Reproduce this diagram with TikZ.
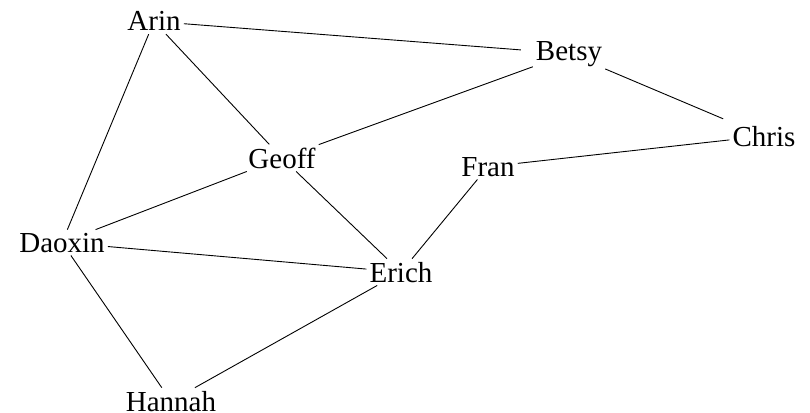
\documentclass[tikz,border=0pt]{standalone}
\usepackage{fontspec}
\setmainfont{Liberation Serif}
\begin{document}
\begin{tikzpicture}[x=1pt,y=-1pt,
  person/.style={anchor=base,inner sep=3pt,font=\fontsize{29}{32}\selectfont},
  link/.style={draw=black,line width=0.9pt}]
\useasboundingbox (0,0) rectangle (810,412);
\node[person] (arin)   at (154,31)  {Arin};
\node[person] (betsy)  at (569,60)  {Betsy};
\node[person] (chris)  at (764,146) {Chris};
\node[person] (fran)   at (488,176) {Fran};
\node[person] (geoff)  at (282,168) {Geoff};
\node[person] (daoxin) at (62,252)  {Daoxin};
\node[person] (erich)  at (401,282) {Erich};
\node[person] (hannah) at (171,411) {Hannah};
\draw[link,shorten >=12pt] (arin) -- (betsy);
\draw[link] (arin) -- (daoxin);
\draw[link] (arin) -- (geoff);
\draw[link] (geoff) -- (betsy);
\draw[link,shorten >=10pt] (betsy) -- (chris);
\draw[link] (chris) -- (fran);
\draw[link] (geoff) -- (daoxin);
\draw[link] (geoff) -- (erich);
\draw[link] (fran) -- (erich);
\draw[link] (daoxin) -- (erich);
\draw[link] (daoxin) -- (hannah);
\draw[link] (erich) -- (hannah);
\end{tikzpicture}
\end{document}
